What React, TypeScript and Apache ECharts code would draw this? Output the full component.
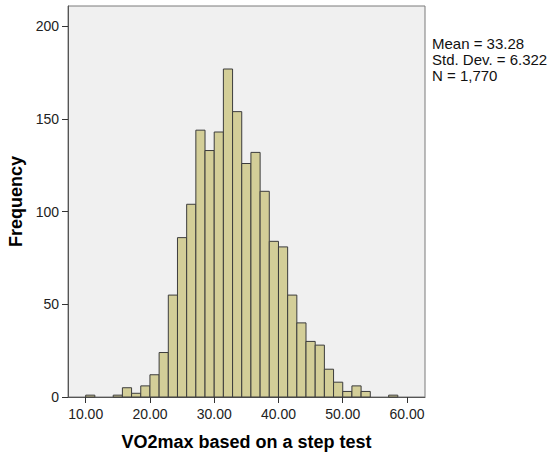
import React, { useEffect, useRef } from "react";
import * as echarts from "echarts";

// Histogram bins: first bin starts at binStart, each bin is binWidth wide
const binStart = 10;
const binWidth = 10 / 7;
const counts = [
  1, 0, 0, 1, 5, 2, 6, 12, 24, 55, 86, 104, 144, 133, 143, 177, 154, 126, 132,
  111, 84, 81, 55, 40, 30, 28, 15, 8, 3, 6, 3, 0, 0, 1,
];
const xTicks = [10, 20, 30, 40, 50, 60];
const statsLines = ["Mean = 33.28", "Std. Dev. = 6.322", "N = 1,770"];
const xTitle = "VO2max based on a step test";
const yTitle = "Frequency";

export default function App() {
  const ref = useRef<HTMLDivElement>(null);
  useEffect(() => {
    if (!ref.current) return;
    const chart = echarts.init(ref.current, null, { renderer: "svg" });
    const data = counts.map((c, i) => [
      binStart + i * binWidth,
      binStart + (i + 1) * binWidth,
      c,
    ]);
    const font = "Liberation Sans, Arial, sans-serif";
    chart.setOption({
      animation: false,
      backgroundColor: "#ffffff",
      grid: {
        left: 68,
        top: 6,
        right: 128,
        bottom: 60,
        outerBoundsMode: "none",
        containLabel: false,
        show: true,
        backgroundColor: "#f0f0f0",
        borderColor: "#7a7a7a",
        borderWidth: 1,
      },
      xAxis: {
        type: "value",
        min: 7.25,
        max: 62.8,
        name: xTitle,
        nameLocation: "middle",
        nameGap: 36,
        nameTextStyle: {
          fontFamily: font,
          fontSize: 18,
          fontWeight: "bold",
          color: "#000",
        },
        splitLine: { show: false },
        axisLine: { show: true, lineStyle: { color: "#555", width: 1 } },
        axisTick: {
          show: true,
          inside: false,
          length: 6,
          lineStyle: { color: "#333", width: 1 },
          customValues: xTicks,
        },
        axisLabel: {
          customValues: xTicks,
          formatter: (v: number) => v.toFixed(2),
          fontFamily: font,
          fontSize: 14,
          color: "#222",
          margin: 10,
        },
      },
      yAxis: {
        type: "value",
        min: 0,
        max: 211,
        interval: 50,
        name: yTitle,
        nameLocation: "middle",
        nameGap: 42,
        nameRotate: 90,
        nameTextStyle: {
          fontFamily: font,
          fontSize: 18,
          fontWeight: "bold",
          color: "#000",
        },
        splitLine: { show: false },
        axisLine: { show: true, lineStyle: { color: "#555", width: 1 } },
        axisTick: {
          show: true,
          inside: false,
          length: 6,
          lineStyle: { color: "#333", width: 1 },
        },
        axisLabel: {
          fontFamily: font,
          fontSize: 14,
          color: "#222",
          margin: 9,
          showMaxLabel: false,
        },
      },
      graphic: [
        {
          type: "text",
          left: 432,
          top: 35,
          style: {
            text: statsLines.join("\n"),
            fontFamily: font,
            fontSize: 15,
            lineHeight: 16,
            fill: "#111",
          },
        },
      ],
      series: [
        {
          type: "custom",
          data,
          encode: { x: [0, 1], y: 2 },
          renderItem: (params: any, api: any) => {
            const c = api.value(2);
            if (!c) return null;
            const p0 = api.coord([api.value(0), c]);
            const p1 = api.coord([api.value(1), 0]);
            return {
              type: "rect",
              shape: {
                x: p0[0],
                y: p0[1],
                width: p1[0] - p0[0],
                height: p1[1] - p0[1],
              },
              style: {
                fill: "#d3ce98",
                stroke: "#3c3c3c",
                lineWidth: 1,
              },
            };
          },
        },
      ],
    });
    return () => chart.dispose();
  }, []);
  return (
    <div
      ref={ref}
      style={{ position: "absolute", left: 0, top: 0, width: 553, height: 457 }}
    />
  );
}
